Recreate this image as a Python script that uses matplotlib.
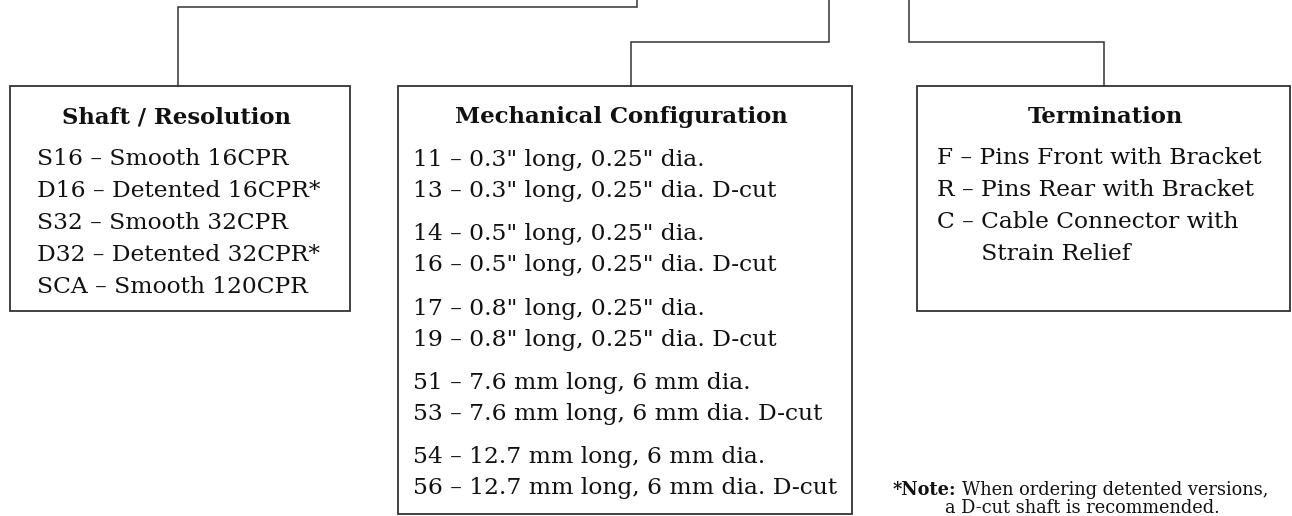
import matplotlib

matplotlib.use("Agg")
import matplotlib.pyplot as plt
from matplotlib.patches import Rectangle

# ---- 文字内容 ----
shaft_title = "Shaft / Resolution"
shaft_items = [
    "S16 – Smooth 16CPR",
    "D16 – Detented 16CPR*",
    "S32 – Smooth 32CPR",
    "D32 – Detented 32CPR*",
    "SCA – Smooth 120CPR",
]

mech_title = "Mechanical Configuration"
mech_groups = [
    ['11 – 0.3" long, 0.25" dia.', '13 – 0.3" long, 0.25" dia. D-cut'],
    ['14 – 0.5" long, 0.25" dia.', '16 – 0.5" long, 0.25" dia. D-cut'],
    ['17 – 0.8" long, 0.25" dia.', '19 – 0.8" long, 0.25" dia. D-cut'],
    ["51 – 7.6 mm long, 6 mm dia.", "53 – 7.6 mm long, 6 mm dia. D-cut"],
    ["54 – 12.7 mm long, 6 mm dia.", "56 – 12.7 mm long, 6 mm dia. D-cut"],
]

term_title = "Termination"
term_items = [
    "F – Pins Front with Bracket",
    "R – Pins Rear with Bracket",
    "C – Cable Connector with",
    "      Strain Relief",
]

note_head = "*Note:"
note_lines = ["When ordering detented versions,", "a D-cut shaft is recommended."]

# ---- 画布：像素坐标，y 向下 ----
W, H = 1292, 516
fig = plt.figure(figsize=(W / 100, H / 100), dpi=100)
ax = fig.add_axes([0, 0, 1, 1])
ax.set_xlim(0, W)
ax.set_ylim(H, 0)
ax.axis("off")

FONT = "DejaVu Serif"
TXT = "#111111"
LINE = "#333333"
FS = 16.8
FS_TITLE = 16.4
FS_NOTE = 12.8

# 连接线
conn = [
    ([178, 178, 637, 637], [86, 7, 7, 0]),
    ([631, 631, 829, 829], [86, 42, 42, 0]),
    ([1104, 1104, 909, 909], [86, 42, 42, 0]),
]
for xs, ys in conn:
    ax.plot(xs, ys, color=LINE, lw=1.1, solid_joinstyle="miter")

# 方框 (x0, y0, x1, y1)
boxes = [(10, 86, 350, 311), (398, 86, 852, 514), (917, 86, 1290, 311)]
for x0, y0, x1, y1 in boxes:
    ax.add_patch(
        Rectangle((x0, y0), x1 - x0, y1 - y0, fill=False, ec=LINE, lw=1.3)
    )

title_kw = dict(
    family=FONT, fontsize=FS_TITLE, weight="bold", ha="center", va="baseline",
    color=TXT,
)
item_kw = dict(family=FONT, fontsize=FS, ha="left", va="baseline", color=TXT)

# Shaft / Resolution
ax.text(177, 123, shaft_title, **title_kw)
for i, s in enumerate(shaft_items):
    ax.text(37, 165 + i * 32, s, **item_kw)

# Mechanical Configuration
ax.text(621, 123, mech_title, **title_kw)
for g, pair in enumerate(mech_groups):
    for k, s in enumerate(pair):
        ax.text(413, 166 + g * 74.3 + k * 31, s, **item_kw)

# Termination
ax.text(1105, 123, term_title, **title_kw)
for i, s in enumerate(term_items):
    ax.text(937, 164 + i * 32, s, **item_kw)

# 注释
fig.canvas.draw()
head = ax.text(893, 495, note_head, family=FONT, fontsize=FS_NOTE, weight="bold",
               ha="left", va="baseline", color=TXT)
bb = head.get_window_extent(fig.canvas.get_renderer())
x_after = ax.transData.inverted().transform((bb.x1, 0))[0] + 5
ax.text(x_after, 495, note_lines[0], family=FONT, fontsize=FS_NOTE,
        ha="left", va="baseline", color=TXT)
ax.text(945, 513, note_lines[1], family=FONT, fontsize=FS_NOTE,
        ha="left", va="baseline", color=TXT)

fig.savefig("out.png", dpi=100)
